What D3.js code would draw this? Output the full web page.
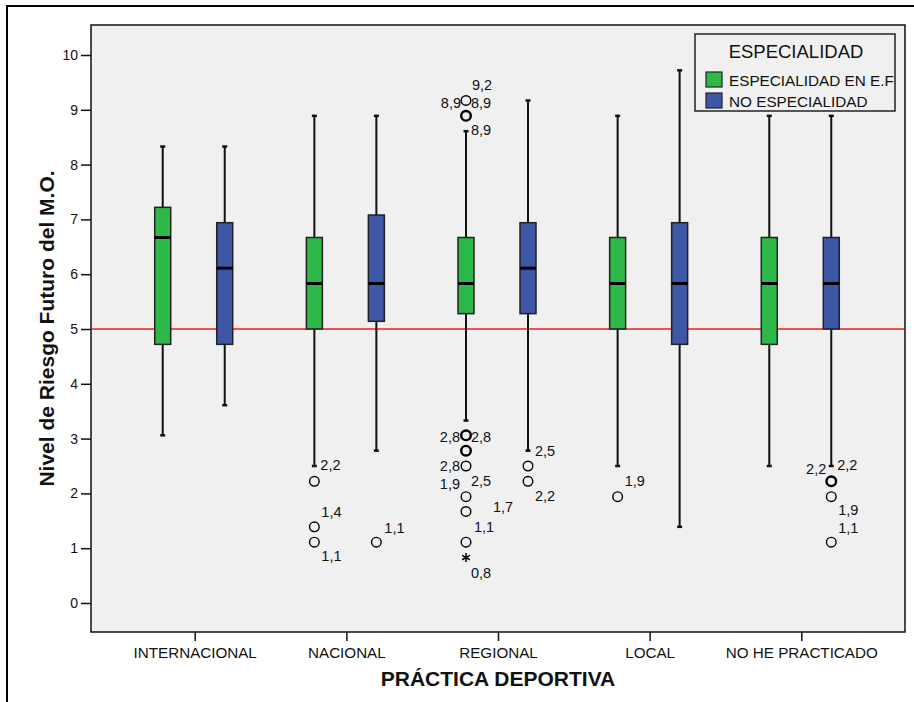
<!DOCTYPE html>
<html><head><meta charset="utf-8">
<script src="https://cdn.jsdelivr.net/npm/d3@7"></script>
<style>body{margin:0;background:#fff}svg{display:block;font-family:"Liberation Sans",Arial,sans-serif}</style>
</head><body><svg id="c" width="914" height="702"></svg>
<script>
const categories = ["INTERNACIONAL","NACIONAL","REGIONAL","LOCAL","NO HE PRACTICADO"];
const seriesNames = ["ESPECIALIDAD EN E.F","NO ESPECIALIDAD"];
const yTicks = [0,1,2,3,4,5,6,7,8,9,10];
const refValue = 5;

// ESPECIALIDAD EN E.F
const efLow    = [3.06, 2.50, 3.33, 2.50, 2.50];
const efQ1     = [4.72, 5.00, 5.28, 5.00, 4.72];
const efMedian = [6.67, 5.83, 5.83, 5.83, 5.83];
const efQ3     = [7.22, 6.67, 6.67, 6.67, 6.67];
const efHigh   = [8.33, 8.89, 8.61, 8.89, 8.89];
// NO ESPECIALIDAD
const noLow    = [3.61, 2.78, 2.78, 1.39, 2.50];
const noQ1     = [4.72, 5.14, 5.28, 4.72, 5.00];
const noMedian = [6.11, 5.83, 6.11, 5.83, 5.83];
const noQ3     = [6.94, 7.08, 6.94, 6.94, 6.67];
const noHigh   = [8.33, 8.89, 9.17, 9.72, 8.89];

// outliers (circles) per category
const efOutliers = [[], [2.22,1.39,1.11], [9.17,8.89,8.89,3.06,3.06,2.78,2.78,2.50,1.94,1.67,1.11], [1.94], []];
const noOutliers = [[], [1.11], [2.50,2.22], [], [2.22,2.22,1.94,1.11]];
// extremes (stars)
const efExtremes = [[], [], [0.83], [], []];
const noExtremes = [[], [], [], [], []];

// case labels: category index, series index, value attached, text
const labelCat  = [1,1,1, 1, 2,2,2,2, 2,2,2,2,2,2,2,2, 2,2, 3, 4,4,4,4];
const labelSer  = [0,0,0, 1, 0,0,0,0, 0,0,0,0,0,0,0,0, 1,1, 0, 1,1,1,1];
const labelVal  = [2.22,1.39,1.11, 1.11, 9.17,9.17,9.17,8.89, 3.06,3.06,2.50,1.94,1.94,1.67,1.11,0.83, 2.50,2.22, 1.94, 2.22,2.22,1.94,1.11];
const labelText = ["2,2","1,4","1,1", "1,1", "9,2","8,9","8,9","8,9", "2,8","2,8","2,8","1,9","2,5","1,7","1,1","0,8", "2,5","2,2", "1,9", "2,2","2,2","1,9","1,1"];
// label placement offsets (px) relative to the marker
const labelDx = [6,7,7, 8, 6,-5,5,5, -6,5,-6,-6,5,27,8,5, 7,7, 7, -5,6,7,7];
const labelDy = [-16,-15,14, -14, -16,2,2,14, 2,2,0,-13,-16,-5,-15,15, -15,15, -16, -12,-16,13,-14];

const colors = ["#2fb84a", "#3d56a6"];

const svg = d3.select("#c");
const W = 914, H = 702;
const plot = {l: 91, t: 25, r: 905, b: 632};

// outer frame (left and top edges visible)
svg.append("path").attr("d", `M7,${H} L7,6 L${W},6`).attr("fill","none").attr("stroke","#000").attr("stroke-width",2);

const x = d3.scalePoint().domain(categories).range([plot.l, plot.r]).padding(0.684);
const off = d3.scalePoint().domain(seriesNames).range([-32, 30]);
const y = d3.scaleLinear().domain([0, 10]).range([603, 55]);

svg.append("rect").attr("x",plot.l).attr("y",plot.t).attr("width",plot.r-plot.l).attr("height",plot.b-plot.t)
  .attr("fill","#f0f0f0").attr("stroke","#111").attr("stroke-width",1.5);

// axes
const yAxis = d3.axisLeft(y).tickValues(yTicks).tickSize(10).tickPadding(3).tickFormat(d3.format("d"));
const gy = svg.append("g").attr("transform",`translate(${plot.l},0)`).call(yAxis);
gy.select(".domain").remove();
gy.selectAll("line").attr("stroke","#111").attr("stroke-width",1.5);
gy.selectAll("text").attr("font-size",14).attr("fill","#111").attr("font-family","Liberation Sans, Arial, sans-serif");

const xAxis = d3.axisBottom(x).tickSize(9).tickPadding(6);
const gx = svg.append("g").attr("transform",`translate(0,${plot.b})`).call(xAxis);
gx.select(".domain").remove();
gx.selectAll("line").attr("stroke","#111").attr("stroke-width",1.5);
gx.selectAll("text").attr("font-size",15.2).attr("fill","#111").attr("font-family","Liberation Sans, Arial, sans-serif");

// reference line
svg.append("line").attr("x1",plot.l+1).attr("x2",plot.r-1).attr("y1",y(refValue)).attr("y2",y(refValue))
  .attr("stroke","#ff1a1a").attr("stroke-width",1.3);

// boxes
const stats = [
  {low: efLow, q1: efQ1, med: efMedian, q3: efQ3, high: efHigh, out: efOutliers, ext: efExtremes},
  {low: noLow, q1: noQ1, med: noMedian, q3: noQ3, high: noHigh, out: noOutliers, ext: noExtremes}
];
const boxW = 16;
const g = svg.append("g");
stats.forEach((s, si) => {
  categories.forEach((c, ci) => {
    const cx = x(c) + off(seriesNames[si]);
    g.append("line").attr("x1",cx).attr("x2",cx).attr("y1",y(s.high[ci])).attr("y2",y(s.low[ci]))
      .attr("stroke","#111").attr("stroke-width",2);
    [s.high[ci], s.low[ci]].forEach(v => {
      g.append("line").attr("x1",cx-2.5).attr("x2",cx+2.5).attr("y1",y(v)).attr("y2",y(v))
        .attr("stroke","#111").attr("stroke-width",2.5);
    });
    g.append("rect").attr("x",cx-boxW/2).attr("y",y(s.q3[ci])).attr("width",boxW)
      .attr("height",y(s.q1[ci])-y(s.q3[ci])).attr("fill",colors[si]).attr("stroke","#222").attr("stroke-width",1.5);
    g.append("line").attr("x1",cx-boxW/2).attr("x2",cx+boxW/2).attr("y1",y(s.med[ci])).attr("y2",y(s.med[ci]))
      .attr("stroke","#000").attr("stroke-width",3);
    const counts = d3.rollup(s.out[ci], v => v.length, d => d);
    counts.forEach((n, v) => {
      g.append("circle").attr("cx",cx).attr("cy",y(v)).attr("r",4.8).attr("fill","none")
        .attr("stroke","#000").attr("stroke-width", n > 1 ? 2.4 : 1.4);
    });
    s.ext[ci].forEach(v => {
      g.append("path").attr("transform",`translate(${cx},${y(v)})`)
        .attr("d", d3.symbol(d3.symbolAsterisk, 55)()).attr("stroke","#000").attr("stroke-width",1.5).attr("fill","none");
    });
  });
});

// case labels
labelText.forEach((t, i) => {
  const cx = x(categories[labelCat[i]]) + off(seriesNames[labelSer[i]]);
  const cy = y(labelVal[i]);
  svg.append("text").attr("x", cx + labelDx[i]).attr("y", cy + labelDy[i]).attr("dy","0.35em")
    .attr("text-anchor", labelDx[i] < 0 ? "end" : "start")
    .attr("font-size",14.5).attr("fill","#111").text(t);
});

// axis titles
svg.append("text").attr("transform",`translate(54,${(plot.t+plot.b)/2}) rotate(-90)`)
  .attr("text-anchor","middle").attr("font-weight","bold").attr("font-size",21).attr("fill","#111")
  .text("Nivel de Riesgo Futuro del M.O.");
svg.append("text").attr("x",(plot.l+plot.r)/2).attr("y",686).attr("text-anchor","middle")
  .attr("font-weight","bold").attr("font-size",21).attr("fill","#111").text("PRÁCTICA DEPORTIVA");

// legend
const lg = svg.append("g");
const L = {x: 695, y: 34, w: 200, h: 77};
lg.append("clipPath").attr("id","lgclip").append("rect").attr("x",L.x).attr("y",L.y).attr("width",L.w-1).attr("height",L.h);
lg.append("rect").attr("x",L.x).attr("y",L.y).attr("width",L.w).attr("height",L.h)
  .attr("fill","#f0f0f0").attr("stroke","#222").attr("stroke-width",1.5);
lg.append("text").attr("x",L.x+L.w/2+1).attr("y",L.y+24).attr("text-anchor","middle")
  .attr("font-size",18.5).attr("fill","#111").text("ESPECIALIDAD");
seriesNames.forEach((n, i) => {
  const yy = L.y + 38 + i*21;
  lg.append("rect").attr("x",L.x+11).attr("y",yy).attr("width",16).attr("height",15)
    .attr("fill",colors[i]).attr("stroke","#222").attr("stroke-width",1.2);
  lg.append("text").attr("x",L.x+34).attr("y",yy+13.5).attr("font-size",15.3).attr("fill","#111")
    .attr("clip-path","url(#lgclip)").text(n);
});
</script></body></html>
